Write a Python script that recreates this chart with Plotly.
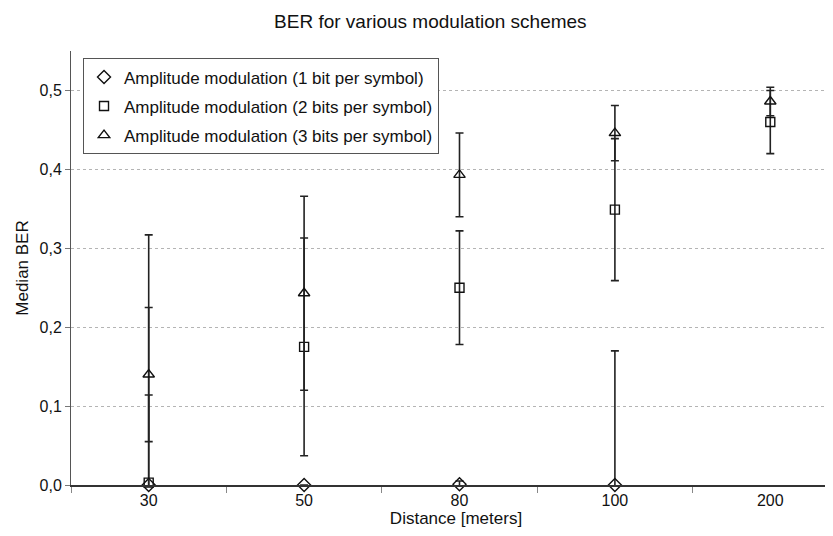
import plotly.graph_objects as go

# distances (categories on the x axis)
distancias = ['30', '50', '80', '100', '200']

# median BER and symmetric error per modulation scheme
ber_1bit = [0.000, 0.000, 0.001, 0.000, None]
err_1bit = [0.317, 0.000, 0.004, 0.170, 0.000]

ber_2bits = [0.003, 0.175, 0.250, 0.349, 0.460]
err_2bits = [0.111, 0.138, 0.072, 0.090, 0.040]

ber_3bits = [0.140, 0.243, 0.393, 0.446, 0.486]
err_3bits = [0.085, 0.123, 0.053, 0.035, 0.018]

nombres = [
    'Amplitude modulation (1 bit per symbol)',
    'Amplitude modulation (2 bits per symbol)',
    'Amplitude modulation (3 bits per symbol)',
]

FUENTE = 'Liberation Sans, Arial, sans-serif'


def agregar_serie(fig, y, err, nombre, simbolo, tam):
    fig.add_trace(go.Scatter(
        x=distancias,
        y=y,
        mode='markers',
        name=nombre,
        legendgroup=nombre,
        cliponaxis=False,
        marker=dict(symbol=simbolo, size=tam, color='#111',
                    line=dict(color='#111', width=1.4)),
        error_y=dict(type='data', array=err, symmetric=True,
                     color='#222', thickness=1.6, width=4),
    ))


fig = go.Figure()
agregar_serie(fig, ber_1bit, err_1bit, nombres[0], 'diamond-open', 10)
agregar_serie(fig, ber_2bits, err_2bits, nombres[1], 'square-open', 9)
agregar_serie(fig, ber_3bits, err_3bits, nombres[2], 'triangle-up-open', 10)

fig.update_layout(
    width=833,
    height=536,
    margin=dict(l=63, r=0, t=43, b=59),
    paper_bgcolor='white',
    plot_bgcolor='white',
    separators=',.',
    font=dict(family=FUENTE, size=16, color='#111'),
    title=dict(
        text='BER for various modulation schemes',
        x=0.507, xanchor='center', y=0.975, yanchor='middle',
        font=dict(family=FUENTE, size=19, color='#111'),
    ),
    showlegend=True,
    legend=dict(
        x=0.0156, y=0.983, xanchor='left', yanchor='top',
        bgcolor='white', bordercolor='#555', borderwidth=1,
        font=dict(family=FUENTE, size=17, color='#111'),
        tracegroupgap=4,
    ),
    xaxis=dict(
        type='category',
        range=[-0.5, 4.455],
        tickson='boundaries',
        ticks='outside', ticklen=6, tickcolor='#888',
        showline=True, linecolor='#333', linewidth=1.5,
        showgrid=False, zeroline=False,
        tickfont=dict(size=16),
        title=dict(text='Distance [meters]', standoff=2,
                   font=dict(size=17)),
    ),
    yaxis=dict(
        range=[0, 0.55],
        tickvals=[0, 0.1, 0.2, 0.3, 0.4, 0.5],
        tickformat='.1f',
        ticks='outside', ticklen=5, tickcolor='#777',
        showline=True, linecolor='#555', linewidth=1,
        showgrid=True, gridcolor='#b4b4b4', griddash='3px,3px', gridwidth=1,
        zeroline=False,
        tickfont=dict(size=16),
        title=dict(text='Median BER', font=dict(size=17), standoff=6),
    ),
)

fig.write_html('out.html')
